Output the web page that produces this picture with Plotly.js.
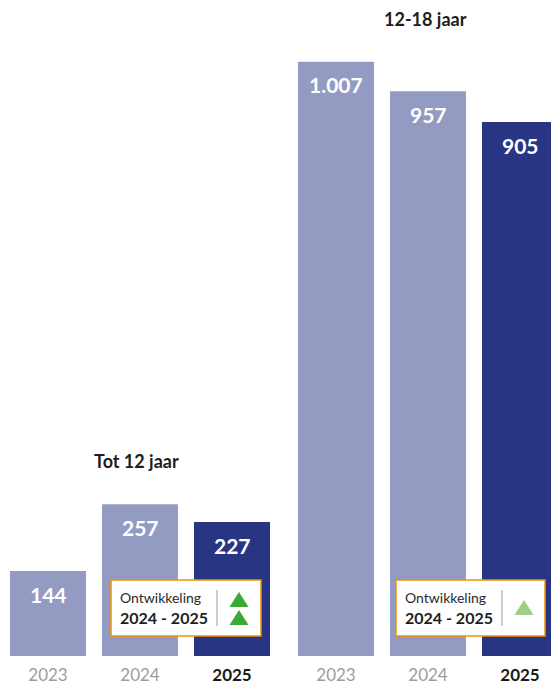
<!DOCTYPE html>
<html><head><meta charset="utf-8">
<script src="https://cdn.plot.ly/plotly-3.0.1.min.js"></script>
<style>html,body{margin:0;padding:0;background:#fff}#chart{width:551px;height:686px}</style>
</head><body><div id="chart"></div>
<script>
const years = ["2023", "2024", "2025"];
const groupTitles = ["Tot 12 jaar", "12-18 jaar"];
const valuesTot12 = [144, 257, 227];
const values12to18 = [1007, 957, 905];
const boxLine1 = "Ontwikkeling";
const boxLine2 = "2024 - 2025";

const LIGHT = "#949bc3", DARK = "#283583";
const colors = ["LIGHT","LIGHT","DARK"].map(c => c === "LIGHT" ? LIGHT : DARK);
const W = 551, H = 686, B = 30;
const PH = H - B;
const px = x => x / W;
const py = y => (PH - y) / PH;
const fmt = v => String(v).replace(/\B(?=(\d{3})+(?!\d))/g, ".");
const FONT = "Lato, 'Noto Sans', sans-serif";

const tickText = years.map((y, i) => i === 2 ? "<span style='color:#1a1a1a'><b>" + y + "</b></span>" : y);

const traces = [
  {type: "bar", x: years, y: valuesTot12, xaxis: "x", yaxis: "y", marker: {color: colors}, hoverinfo: "none"},
  {type: "bar", x: years, y: values12to18, xaxis: "x2", yaxis: "y", marker: {color: colors}, hoverinfo: "none"}
];

const annotations = [];
[[valuesTot12, "x", -4], [values12to18, "x2", -3]].forEach(([vals, xr, xs], g) => {
  vals.forEach((v, i) => annotations.push({
    x: i, y: v, xref: xr, yref: "y", yshift: -23, showarrow: false,
    text: "<b>" + fmt(v) + "</b>", font: {family: FONT, size: 21, color: "#ffffff"}
  }));
  annotations.push({
    x: 1, y: Math.max(...vals), xref: xr, yref: "y", yshift: 43, xshift: xs, showarrow: false,
    text: "<b>" + groupTitles[g] + "</b>", font: {family: FONT, size: 18, color: "#1e1e1e"}
  });
});

const shapes = [];
function box(left, right, tris) {
  shapes.push({type: "rect", xref: "paper", yref: "paper", x0: px(left), x1: px(right), y0: py(636), y1: py(580),
    fillcolor: "#ffffff", line: {color: "#f39200", width: 1.5}, layer: "above"});
  annotations.push({xref: "paper", yref: "paper", x: px(left + 7), y: py(597), xanchor: "left", yanchor: "middle",
    showarrow: false, text: boxLine1, font: {family: FONT, size: 14, color: "#2a2a2a"}});
  annotations.push({xref: "paper", yref: "paper", x: px(left + 7), y: py(617), xanchor: "left", yanchor: "middle",
    showarrow: false, text: "<b>" + boxLine2 + "</b>", font: {family: FONT, size: 16, color: "#1e1e1e"}});
  const dx = left + 106;
  shapes.push({type: "line", xref: "paper", yref: "paper", x0: px(dx), x1: px(dx), y0: py(590), y1: py(626),
    line: {color: "#9a9a9a", width: 1}, layer: "above"});
  tris.forEach(t => {
    const [cx, cy, col] = t;
    shapes.push({type: "path", xref: "paper", yref: "paper", layer: "above",
      path: "M " + px(cx - 9.5) + "," + py(cy + 7) + " L " + px(cx + 9.5) + "," + py(cy + 7) + " L " + px(cx) + "," + py(cy - 8) + " Z",
      fillcolor: col, line: {width: 0}});
  });
}
box(111, 261, [[239, 600, "#3aaa35"], [239, 618, "#3aaa35"]]);
box(396, 545, [[524, 608, "#9dcf86"]]);

const xCommon = {type: "category", showgrid: false, zeroline: false, showline: false,
  ticks: "outside", ticklen: 4, tickcolor: "rgba(0,0,0,0)",
  tickvals: years, ticktext: tickText, tickfont: {family: FONT, size: 17, color: "#9d9d9d"}, fixedrange: true};

const layout = {
  width: W, height: H, margin: {l: 0, r: 0, t: 0, b: B},
  paper_bgcolor: "#ffffff", plot_bgcolor: "#ffffff",
  showlegend: false, bargap: 0.174,
  xaxis: Object.assign({}, xCommon, {domain: [2 / W, 278 / W], range: [-0.5, 2.5], anchor: "y"}),
  xaxis2: Object.assign({}, xCommon, {domain: [290 / W, 1], range: [-0.5, (W - 290) / 92 - 0.5], anchor: "y"}),
  yaxis: {range: [0, PH / 0.59], visible: false, fixedrange: true, anchor: "x"},
  annotations: annotations, shapes: shapes
};
Plotly.newPlot("chart", traces, layout, {displayModeBar: false, staticPlot: true});
</script></body></html>
